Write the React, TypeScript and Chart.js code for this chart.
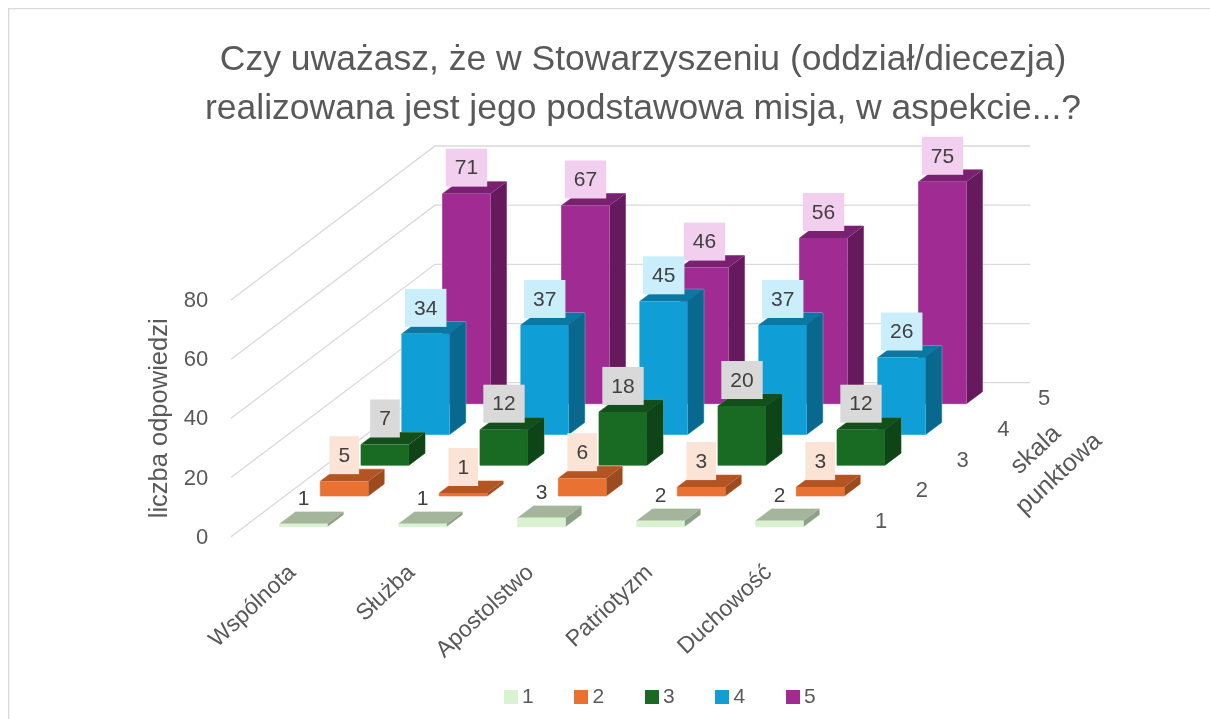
import React, { useEffect, useRef } from "react";
import { Chart, BarController, registerables } from "chart.js";

Chart.register(...registerables);

const titleLines = ["Czy uważasz, że w Stowarzyszeniu (oddział/diecezja)", "realizowana jest jego podstawowa misja, w aspekcie...?"];
const categories = ["Wspólnota", "Służba", "Apostolstwo", "Patriotyzm", "Duchowość"];
const seriesNames = ["1", "2", "3", "4", "5"];
const series1 = [1, 1, 3, 2, 2];
const series2 = [5, 1, 6, 3, 3];
const series3 = [7, 12, 18, 20, 12];
const series4 = [34, 37, 45, 37, 26];
const series5 = [71, 67, 46, 56, 75];
const frontColors = ["#D9F2D0", "#E97132", "#196B24", "#0F9ED5", "#A02B93"];
const topColors = ["#A5B59C", "#B25523", "#124F1A", "#0A78A3", "#7A2070"];
const sideColors = ["#8FA088", "#9C4B1E", "#0F4417", "#08688E", "#641A5C"];
const edgeColors = ["#E6F6E0", "#F09A6C", "#5E9666", "#6CC5E6", "#C27AB9"];
const labelFills = [null, "#FBE3D6", "#D9D9D9", "#CAEEFB", "#F2CEEF"];

const FONT = "'Liberation Sans', Arial, sans-serif";
const TEXT = "#595959";
const LABEL_TEXT = "#404040";
const GRID = "#D9D9D9";
const W = 1210, H = 719;
const LEFT = 231, RIGHT = 826, TOP = 300, BOTTOM = 536.7;
const WALL_DX = 204, WALL_DY = -154, WALL_END = 1030;
const STEP_DX = 40.75, STEP_DY = -30.75, START_DX = 13, START_DY = -10;
const BAR_DX = 16, BAR_DY = -12;

const offsetOf = (i: number) => ({ x: START_DX + i * STEP_DX, y: START_DY + i * STEP_DY });

class Bar3DController extends BarController {
  static id = "bar3d";
  draw() {
    const ctx = this.chart.ctx;
    const i = this.index;
    const o = offsetOf(i);
    for (const bar of this._cachedMeta.data as any[]) {
      const l = bar.x - bar.width / 2 + o.x;
      const r = l + bar.width;
      const t = bar.y + o.y;
      const b = bar.base + o.y;
      ctx.save();
      const poly = (pts: number[][], fill: string) => {
        ctx.beginPath();
        pts.forEach((p, k) => (k ? ctx.lineTo(p[0], p[1]) : ctx.moveTo(p[0], p[1])));
        ctx.closePath();
        ctx.fillStyle = fill;
        ctx.fill();
      };
      ctx.beginPath();
      ctx.moveTo(l, b); ctx.lineTo(l, t); ctx.lineTo(l + BAR_DX, t + BAR_DY); ctx.lineTo(r + BAR_DX, t + BAR_DY);
      ctx.lineTo(r + BAR_DX, b + BAR_DY); ctx.lineTo(r, b); ctx.closePath();
      ctx.strokeStyle = edgeColors[i];
      ctx.lineWidth = 1;
      ctx.stroke();
      poly([[l, t], [l + BAR_DX, t + BAR_DY], [r + BAR_DX, t + BAR_DY], [r, t]], topColors[i]);
      poly([[r, t], [r + BAR_DX, t + BAR_DY], [r + BAR_DX, b + BAR_DY], [r, b]], sideColors[i]);
      poly([[l, t], [r, t], [r, b], [l, b]], frontColors[i]);
      ctx.restore();
    }
  }
}
Chart.register(Bar3DController);

const legendSwatch = (color: string) => {
  const c = document.createElement("canvas");
  c.width = 14; c.height = 14;
  const g = c.getContext("2d")!;
  g.fillStyle = color;
  g.fillRect(0, 0, 14, 14);
  return c;
};

const scene = {
  id: "scene",
  afterLayout(chart: any) {
    const tb = chart.titleBlock;
    if (tb) { tb.left = 76; tb.right = W; }
    const lg = chart.legend;
    if (lg) {
      const pad = lg.options.labels.padding;
      lg.left = 510.5 - pad;
      lg.right = W;
      lg.top = 697 - 10.5 - pad;
    }
    chart.scales.x.bottom = H;
  },
  beforeDatasetsDraw(chart: any) {
    const ctx = chart.ctx;
    const y = chart.scales.y;
    ctx.save();
    ctx.strokeStyle = GRID;
    ctx.lineWidth = 1.3;
    ctx.beginPath();
    ctx.moveTo(8.7, H); ctx.lineTo(8.7, 8.7); ctx.lineTo(W, 8.7);
    ctx.stroke();
    y.ticks.forEach((t: any) => {
      const p = y.getPixelForValue(t.value);
      ctx.beginPath();
      ctx.moveTo(LEFT, p);
      ctx.lineTo(LEFT + WALL_DX, p + WALL_DY);
      ctx.lineTo(WALL_END, p + WALL_DY);
      ctx.stroke();
    });
    ctx.restore();
  },
  afterDatasetsDraw(chart: any) {
    const ctx = chart.ctx;
    ctx.save();
    ctx.textBaseline = "middle";
    ctx.font = `21px ${FONT}`;
    ctx.textAlign = "center";
    for (let i = chart.data.datasets.length - 1; i >= 0; i--) {
      const o = offsetOf(i);
      const meta = chart.getDatasetMeta(i);
      meta.data.forEach((bar: any, k: number) => {
        const txt = String(chart.data.datasets[i].data[k]);
        const w = ctx.measureText(txt).width + 18;
        const cx = bar.x + o.x;
        const bot = bar.y + o.y - 7;
        if (labelFills[i]) {
          ctx.fillStyle = labelFills[i];
          ctx.fillRect(cx - w / 2, bot - 38, w, 38);
        }
        ctx.fillStyle = LABEL_TEXT;
        ctx.fillText(txt, cx, bot - 18);
      });
    }
    // depth axis
    ctx.fillStyle = TEXT;
    ctx.font = `22px ${FONT}`;
    seriesNames.forEach((s, i) => {
      ctx.fillText(s, 881 + i * STEP_DX, 522 + i * STEP_DY);
    });
    ctx.font = `25px ${FONT}`;
    [["skala", 1036, 450], ["punktowa", 1059, 474]].forEach(([t, x, yy]: any) => {
      ctx.save();
      ctx.translate(x, yy);
      ctx.rotate((-43 * Math.PI) / 180);
      ctx.fillText(t, 0, 0);
      ctx.restore();
    });
    ctx.restore();
  },
};

export default function App() {
  const ref = useRef<HTMLCanvasElement>(null);
  useEffect(() => {
    const data = [series1, series2, series3, series4, series5];
    const chart = new Chart(ref.current!, {
      type: "bar3d" as any,
      data: {
        labels: categories,
        datasets: data.map((d, i) => ({
          label: seriesNames[i],
          data: d,
          backgroundColor: frontColors[i],
          grouped: false,
          barPercentage: 0.403,
          categoryPercentage: 1,
          clip: false as any,
        })),
      },
      plugins: [scene],
      options: {
        responsive: false,
        animation: false,
        devicePixelRatio: 1,
        layout: { padding: { right: W - RIGHT, left: 0, top: 0, bottom: 0 } },
        plugins: {
          tooltip: { enabled: false },
          title: {
            display: true,
            text: titleLines,
            color: TEXT,
            font: { family: FONT, size: 35.5, weight: "normal", lineHeight: 49 / 35.5 },
            padding: { top: 35.5, bottom: TOP - 35.5 - 98 },
          },
          legend: {
            display: true,
            position: "bottom",
            align: "start",
            labels: {
              usePointStyle: true,
              pointStyleWidth: 1,
              boxHeight: 14,
              padding: 47.3,
              color: TEXT,
              font: { family: FONT, size: 21 },
              generateLabels: (c: any) =>
                c.data.datasets.map((d: any, i: number) => ({
                  text: d.label,
                  fillStyle: d.backgroundColor,
                  strokeStyle: d.backgroundColor,
                  lineWidth: 0,
                  hidden: false,
                  datasetIndex: i,
                  pointStyle: legendSwatch(d.backgroundColor),
                  fontColor: TEXT,
                })),
            },
          },
        },
        scales: {
          x: {
            type: "category",
            grid: { display: false, drawTicks: false },
            border: { display: false },
            ticks: {
              autoSkip: false,
              minRotation: 43,
              maxRotation: 43,
              labelOffset: 2,
              padding: 22.5,
              color: TEXT,
              font: { family: FONT, size: 23 },
            },
            afterFit: (s: any) => {
              s.height = H - BOTTOM - (s.chart.legend ? s.chart.legend.height : 0);
            },
          },
          y: {
            type: "linear",
            min: 0,
            max: 80,
            grid: { display: false, drawTicks: false },
            border: { display: false },
            ticks: {
              stepSize: 20,
              color: TEXT,
              padding: 22.7,
              labelOffset: 1,
              font: { family: FONT, size: 22 },
            },
            title: {
              display: true,
              text: "liczba odpowiedzi",
              color: TEXT,
              font: { family: FONT, size: 25.5 },
              padding: { top: 145, bottom: 0 },
            },
            afterFit: (s: any) => {
              s.width = LEFT;
            },
          },
        },
      } as any,
    } as any);
    return () => chart.destroy();
  }, []);
  return (
    <canvas
      ref={ref}
      width={W}
      height={H}
      style={{ position: "fixed", left: 0, top: 0, display: "block", background: "#FFFFFF" }}
    />
  );
}
